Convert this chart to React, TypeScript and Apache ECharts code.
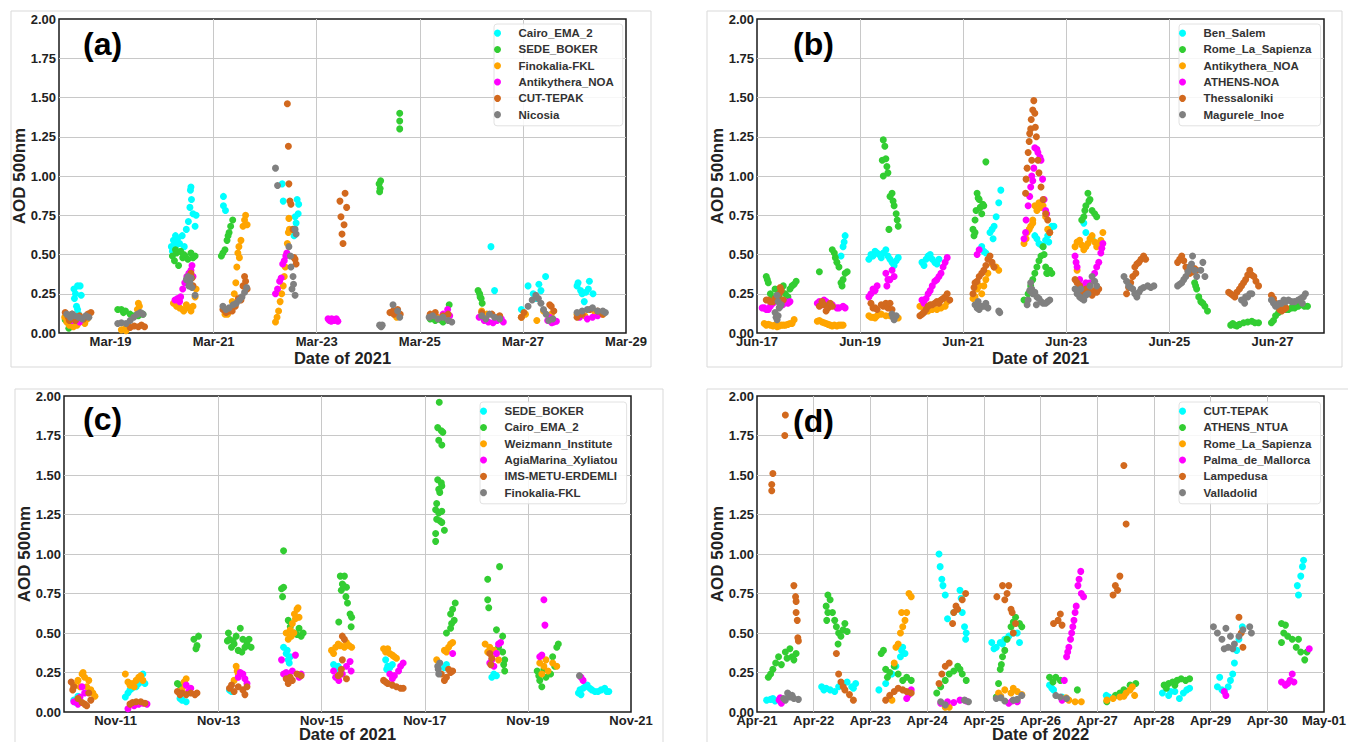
import React, { useEffect, useRef } from 'react';
import * as echarts from 'echarts';

const FONT = "'Liberation Sans', Arial, Helvetica, sans-serif";
const COLORS = ['#00FFFF', '#32CD32', '#FFA500', '#FF00FF', '#D2691E', '#808080'];

// ---------- Panel (a): March 2021, x = days since Mar-18 ----------
const aNames = ['Cairo_EMA_2', 'SEDE_BOKER', 'Finokalia-FKL', 'Antikythera_NOA', 'CUT-TEPAK', 'Nicosia'];
const aTicks = [1, 3, 5, 7, 9, 11];
const aTickLabels = ['Mar-19', 'Mar-21', 'Mar-23', 'Mar-25', 'Mar-27', 'Mar-29'];
const aCairo = [[0.29,0.28],[0.32,0.25],[0.36,0.30],[0.41,0.30],[0.43,0.24],[0.34,0.17],[0.36,0.15],[0.38,0.12],[0.30,0.22],
[2.18,0.55],[2.22,0.59],[2.26,0.62],[2.30,0.60],[2.34,0.57],[2.39,0.62],[2.43,0.55],[2.47,0.66],[2.51,0.71],[2.54,0.80],[2.57,0.85],[2.55,0.91],[2.56,0.93],[2.60,0.76],[2.64,0.68],[2.66,0.75],[2.20,0.52],[2.28,0.56],
[3.19,0.87],[3.19,0.81],[3.23,0.78],
[4.33,0.95],[4.35,0.84],[4.54,0.66],[4.56,0.62],[4.58,0.74],[4.62,0.85],[4.64,0.76],[4.60,0.70],[4.65,0.82],
[8.38,0.55],[8.45,0.27],
[9.10,0.30],[9.20,0.25],[9.31,0.31],[9.35,0.27],[9.44,0.36],[8.97,0.15],[9.25,0.22],
[10.05,0.30],[10.07,0.32],[10.15,0.25],[10.19,0.20],[10.27,0.28],[10.29,0.33],[10.36,0.25],[10.12,0.27],[10.22,0.26]];
const aSede = [[0.12,0.085],[0.19,0.03],[0.16,0.07],[0.22,0.06],
[1.14,0.15],[1.21,0.15],[1.29,0.14],[1.38,0.12],[1.46,0.11],[1.54,0.11],[1.63,0.12],[1.25,0.13],
[2.20,0.49],[2.24,0.46],[2.28,0.51],[2.32,0.43],[2.36,0.52],[2.40,0.48],[2.45,0.49],[2.50,0.47],[2.56,0.51],[2.60,0.48],[2.64,0.49],[2.26,0.53],[2.42,0.50],
[3.15,0.49],[3.18,0.51],[3.22,0.53],[3.26,0.59],[3.30,0.64],[3.33,0.68],[3.37,0.72],[3.28,0.62],
[6.21,0.95],[6.23,0.92],[6.24,0.97],[6.22,0.90],
[6.61,1.40],[6.61,1.35],[6.61,1.30],
[7.20,0.09],[7.30,0.08],[7.40,0.085],[7.50,0.10],[7.57,0.18],[7.45,0.07],
[8.13,0.27],[8.16,0.25],[8.19,0.22],[8.21,0.19],[8.17,0.23]];
const aFino = [[0.11,0.10],[0.15,0.07],[0.20,0.05],[0.25,0.06],[0.30,0.08],[0.35,0.05],[0.40,0.07],[0.45,0.09],[0.50,0.06],[0.55,0.09],[0.28,0.04],
[1.21,0.02],[1.29,0.03],[1.34,0.05],[1.30,0.015],[1.54,0.19],[1.56,0.17],[1.52,0.15],
[2.22,0.19],[2.28,0.17],[2.34,0.16],[2.40,0.15],[2.47,0.18],[2.52,0.16],[2.56,0.14],[2.60,0.17],[2.64,0.23],[2.66,0.28],[2.30,0.20],[2.42,0.14],
[3.22,0.12],[3.27,0.12],[3.32,0.15],[3.36,0.20],[3.40,0.25],[3.43,0.32],[3.45,0.42],[3.47,0.51],[3.49,0.55],[3.53,0.59],[3.57,0.68],[3.60,0.72],[3.62,0.75],[3.65,0.69],[3.50,0.48],
[4.20,0.07],[4.23,0.10],[4.26,0.14],[4.29,0.20],[4.32,0.25],[4.35,0.30],[4.37,0.36],[4.39,0.42],[4.42,0.50],[4.43,0.57],[4.45,0.64],[4.46,0.73],[4.47,0.66],
[6.50,0.12],[6.55,0.10],
[7.20,0.11],[7.35,0.10],[7.55,0.09],
[8.20,0.14],[8.30,0.12],[8.50,0.10],
[8.97,0.10],[9.05,0.12],[9.27,0.08],[9.40,0.14],[9.55,0.12],
[10.05,0.12],[10.20,0.11],[10.40,0.13],[10.55,0.12]];
const aAnti = [[0.25,0.08],[0.40,0.07],
[2.25,0.21],[2.30,0.22],[2.36,0.23],[2.40,0.28],[2.44,0.32],[2.48,0.36],[2.52,0.38],[2.56,0.40],[2.58,0.43],[2.60,0.36],[2.34,0.20],
[4.20,0.25],[4.24,0.28],[4.28,0.33],[4.31,0.35],[4.34,0.44],[4.37,0.46],[4.40,0.49],[4.42,0.51],
[5.22,0.09],[5.25,0.08],[5.28,0.075],[5.31,0.085],[5.34,0.08],[5.38,0.09],[5.41,0.075],[5.29,0.09],
[7.45,0.12],[7.54,0.15],[7.58,0.11],
[8.15,0.10],[8.25,0.08],[8.33,0.07],[8.42,0.065],[8.50,0.08],[8.58,0.09],[8.62,0.07],
[9.48,0.08],[9.56,0.065],[9.60,0.07],[9.65,0.075],[9.52,0.10],
[10.10,0.10],[10.25,0.09],[10.35,0.10],[10.45,0.11]];
const aCut = [[0.12,0.13],[0.18,0.10],[0.25,0.12],[0.32,0.08],[0.40,0.11],[0.48,0.09],[0.56,0.12],[0.62,0.13],[0.20,0.08],
[1.38,0.035],[1.46,0.045],[1.54,0.04],[1.60,0.05],[1.66,0.04],
[2.56,0.38],[2.58,0.35],[2.60,0.30],
[3.18,0.15],[3.24,0.13],[3.30,0.14],[3.36,0.14],[3.42,0.17],[3.48,0.22],[3.53,0.21],[3.57,0.30],[3.60,0.36],[3.62,0.33],[3.65,0.28],
[4.43,1.46],[4.45,1.19],[4.46,0.95],[4.48,0.84],[4.50,0.82],[4.54,0.66],[4.58,0.47],[4.60,0.44],[4.56,0.48],
[5.45,0.84],[5.55,0.89],[5.47,0.74],[5.53,0.69],[5.49,0.63],[5.51,0.57],[5.58,0.80],
[6.42,0.13],[6.50,0.12],[6.57,0.15],[6.62,0.12],[6.48,0.14],
[7.20,0.12],[7.30,0.13],[7.45,0.11],[7.55,0.12],
[8.20,0.13],[8.40,0.12],[8.55,0.11],
[8.97,0.10],[9.02,0.13],[9.55,0.17],[9.60,0.14],[9.52,0.18],
[10.05,0.10],[10.15,0.12],[10.30,0.15],[10.45,0.14],[10.55,0.12]];
const aNicosia = [[0.15,0.12],[0.22,0.10],[0.30,0.11],[0.38,0.10],[0.45,0.09],[0.52,0.11],[0.58,0.10],[0.26,0.12],
[1.14,0.06],[1.21,0.065],[1.30,0.06],[1.38,0.08],[1.45,0.10],[1.52,0.12],[1.58,0.13],[1.63,0.12],
[2.47,0.34],[2.50,0.36],[2.54,0.32],[2.58,0.29],[2.64,0.24],[2.52,0.30],[2.56,0.35],
[3.18,0.17],[3.24,0.15],[3.30,0.16],[3.38,0.18],[3.44,0.19],[3.50,0.21],[3.55,0.23],[3.60,0.26],[3.64,0.29],
[4.20,1.05],[4.24,0.94],[4.46,0.55],[4.49,0.49],[4.50,0.42],[4.54,0.36],[4.55,0.31],[4.58,0.24],[4.58,0.66],[4.60,0.63],[4.52,0.28],
[6.22,0.05],[6.25,0.04],[6.27,0.05],[6.48,0.18],[6.57,0.14],[6.61,0.10],
[7.18,0.10],[7.25,0.11],[7.35,0.09],[7.45,0.10],[7.55,0.08],[7.62,0.07],
[8.20,0.11],[8.28,0.09],[8.35,0.12],[8.45,0.10],[8.55,0.09],
[9.10,0.17],[9.18,0.21],[9.25,0.24],[9.30,0.22],[9.35,0.19],[9.40,0.15],[9.45,0.12],[9.50,0.08],[9.58,0.09],
[10.05,0.13],[10.15,0.14],[10.25,0.15],[10.35,0.16],[10.45,0.14],[10.55,0.14],[10.60,0.13]];

// ---------- Panel (b): June 2021, x = days since Jun-17 ----------
const bNames = ['Ben_Salem', 'Rome_La_Sapienza', 'Antikythera_NOA', 'ATHENS-NOA', 'Thessaloniki', 'Magurele_Inoe'];
const bTicks = [0, 2, 4, 6, 8, 10];
const bTickLabels = ['Jun-17', 'Jun-19', 'Jun-21', 'Jun-23', 'Jun-25', 'Jun-27'];
const bBen = [[1.63,0.49],[1.67,0.55],[1.71,0.62],[1.69,0.58],
[2.17,0.47],[2.21,0.50],[2.25,0.49],[2.29,0.52],[2.33,0.51],[2.37,0.50],[2.41,0.48],[2.45,0.51],[2.50,0.53],[2.54,0.49],[2.58,0.47],[2.62,0.45],[2.66,0.43],[2.70,0.46],[2.74,0.48],
[3.20,0.45],[3.24,0.43],[3.28,0.47],[3.32,0.49],[3.36,0.50],[3.40,0.47],[3.45,0.45],[3.49,0.44],[3.53,0.47],
[4.36,0.55],[4.40,0.52],[4.44,0.51],[4.52,0.64],[4.56,0.66],[4.60,0.68],[4.64,0.74],[4.69,0.83],[4.73,0.91],[4.58,0.60],
[5.39,0.62],[5.43,0.60],[5.47,0.57],[5.51,0.56],[5.55,0.55],[5.60,0.59],[5.64,0.62],[5.68,0.66],[5.72,0.68],[5.76,0.68],[5.66,0.58],
[6.34,0.70],[6.38,0.64],[6.50,0.60]];
const bRome = [[0.18,0.36],[0.20,0.34],[0.22,0.32],[0.26,0.25],[0.31,0.22],[0.39,0.24],[0.43,0.23],[0.47,0.27],[0.51,0.30],[0.55,0.25],[0.60,0.23],[0.64,0.28],[0.68,0.30],[0.72,0.31],[0.76,0.33],[0.35,0.28],
[1.21,0.39],[1.46,0.53],[1.50,0.51],[1.52,0.48],[1.55,0.45],[1.59,0.42],[1.63,0.32],[1.67,0.34],[1.71,0.38],[1.75,0.39],[1.65,0.30],
[2.43,1.10],[2.45,1.00],[2.45,1.23],[2.48,1.19],[2.50,1.11],[2.52,1.06],[2.54,1.02],[2.58,0.87],[2.62,0.89],[2.66,0.81],[2.70,0.76],[2.72,0.72],[2.74,0.68],[2.56,0.66],[2.64,0.84],
[4.19,0.66],[4.21,0.62],[4.23,0.72],[4.25,0.78],[4.27,0.89],[4.29,0.86],[4.31,0.85],[4.33,0.80],[4.36,0.76],[4.38,0.82],[4.40,0.81],[4.44,1.09],[4.23,0.64],
[5.18,0.21],[5.26,0.25],[5.31,0.30],[5.35,0.34],[5.39,0.38],[5.43,0.42],[5.47,0.46],[5.51,0.49],[5.55,0.55],[5.57,0.50],[5.60,0.42],[5.62,0.38],[5.64,0.38],[5.68,0.40],[5.72,0.38],
[6.30,0.72],[6.34,0.74],[6.38,0.81],[6.42,0.89],[6.44,0.84],[6.46,0.85],[6.50,0.78],[6.55,0.76],[6.59,0.74],[6.36,0.78],
[8.49,0.32],[8.53,0.28],[8.57,0.23],[8.61,0.20],[8.65,0.19],[8.69,0.17],[8.74,0.14],[8.51,0.30],
[9.19,0.05],[9.23,0.06],[9.31,0.045],[9.36,0.055],[9.44,0.065],[9.52,0.07],[9.60,0.075],[9.66,0.065],[9.73,0.065],[9.27,0.05],
[9.98,0.065],[10.02,0.08],[10.06,0.11],[10.12,0.13],[10.18,0.15],[10.26,0.15],[10.31,0.15],[10.37,0.16],[10.43,0.16],[10.50,0.17],[10.55,0.18],[10.62,0.17],[10.68,0.17]];
const bAnti = [[0.14,0.06],[0.18,0.05],[0.22,0.055],[0.26,0.05],[0.31,0.045],[0.35,0.05],[0.39,0.04],[0.43,0.045],[0.47,0.05],[0.51,0.05],[0.55,0.05],[0.60,0.055],[0.64,0.06],[0.68,0.06],[0.72,0.085],
[1.17,0.075],[1.21,0.08],[1.26,0.07],[1.30,0.065],[1.34,0.06],[1.38,0.055],[1.42,0.05],[1.46,0.045],[1.50,0.05],[1.55,0.045],[1.59,0.05],[1.63,0.05],[1.67,0.05],
[2.17,0.11],[2.21,0.10],[2.25,0.10],[2.29,0.095],[2.33,0.11],[2.41,0.12],[2.50,0.11],[2.58,0.11],[2.66,0.10],[2.74,0.095],
[3.16,0.17],[3.24,0.15],[3.32,0.14],[3.40,0.15],[3.49,0.15],[3.57,0.16],[3.65,0.17],[3.69,0.20],
[4.19,0.22],[4.23,0.23],[4.27,0.28],[4.31,0.30],[4.36,0.25],[4.40,0.30],[4.44,0.34],[4.48,0.38],[4.56,0.44],[4.60,0.42],[4.64,0.42],[4.69,0.40],
[5.18,0.57],[5.22,0.60],[5.24,0.64],[5.28,0.66],[5.31,0.68],[5.35,0.72],[5.39,0.81],[5.43,0.78],[5.47,0.83],[5.51,0.80],[5.55,0.81],[5.60,0.74],[5.64,0.66],[5.68,0.64],[5.35,0.70],
[6.17,0.55],[6.21,0.58],[6.26,0.59],[6.30,0.56],[6.34,0.53],[6.38,0.55],[6.42,0.57],[6.46,0.60],[6.50,0.62],[6.55,0.58],[6.59,0.55],[6.63,0.57],[6.67,0.59],[6.71,0.64],[6.21,0.40]];
const bAthens = [[0.10,0.16],[0.14,0.16],[0.18,0.15],[0.22,0.15],[0.26,0.17],[0.31,0.19],[0.55,0.20],[0.60,0.19],[0.64,0.20],[0.50,0.18],
[1.17,0.19],[1.21,0.20],[1.26,0.18],[1.30,0.21],[1.34,0.20],[1.38,0.17],[1.42,0.18],[1.46,0.18],[1.55,0.16],[1.59,0.16],[1.67,0.17],[1.71,0.16],
[2.17,0.23],[2.21,0.25],[2.25,0.28],[2.29,0.27],[2.33,0.30],[2.50,0.38],[2.54,0.34],[2.58,0.34],[2.62,0.40],[2.66,0.36],[2.52,0.30],
[3.20,0.21],[3.24,0.19],[3.28,0.22],[3.32,0.25],[3.36,0.27],[3.40,0.30],[3.45,0.33],[3.49,0.34],[3.53,0.36],[3.57,0.38],[3.61,0.42],[3.65,0.45],[3.69,0.48],
[4.27,0.50],[4.31,0.53],
[5.18,0.60],[5.21,0.64],[5.22,0.72],[5.26,0.81],[5.29,0.87],[5.31,0.93],[5.33,1.00],[5.37,1.05],[5.39,1.18],[5.43,1.17],[5.45,1.15],[5.49,1.12],[5.51,1.10],[5.54,0.98],[5.57,0.85],[5.60,0.78],[5.62,0.76],[5.35,0.97],
[6.17,0.49],[6.19,0.45],[6.21,0.42],[6.26,0.34],[6.30,0.30],[6.38,0.32],[6.46,0.32],[6.55,0.38],[6.59,0.42],[6.63,0.45],[6.67,0.51],[6.71,0.57],[6.69,0.54]];
const bThess = [[0.18,0.21],[0.22,0.21],[0.26,0.20],[0.31,0.20],[0.35,0.22],[0.39,0.23],[0.43,0.25],[0.47,0.27],[0.51,0.21],[0.45,0.29],
[1.21,0.17],[1.26,0.20],[1.30,0.18],[1.34,0.14],[1.38,0.16],[1.42,0.19],[1.46,0.17],
[2.21,0.19],[2.25,0.16],[2.29,0.16],[2.33,0.15],[2.41,0.18],[2.45,0.17],[2.50,0.19],[2.54,0.16],[2.58,0.19],[2.62,0.15],
[3.16,0.11],[3.20,0.12],[3.24,0.13],[3.28,0.15],[3.32,0.17],[3.36,0.18],[3.40,0.18],[3.45,0.19],[3.49,0.20],[3.53,0.19],[3.57,0.21],[3.61,0.22],[3.65,0.23],[3.74,0.21],[3.69,0.25],
[4.19,0.25],[4.21,0.29],[4.23,0.32],[4.27,0.33],[4.31,0.36],[4.36,0.38],[4.40,0.40],[4.44,0.43],[4.48,0.47],[4.52,0.49],[4.56,0.45],[4.60,0.42],
[5.21,0.89],[5.22,0.98],[5.24,1.05],[5.26,1.15],[5.28,1.22],[5.29,1.27],[5.31,1.30],[5.32,1.36],[5.35,1.42],[5.37,1.48],[5.39,1.40],[5.40,1.31],[5.42,1.25],[5.45,1.10],[5.47,1.02],[5.51,0.93],[5.55,0.85],[5.60,0.76],[5.64,0.72],[5.68,0.64],[5.33,1.10],
[6.17,0.34],[6.21,0.32],[6.26,0.30],[6.30,0.27],[6.34,0.25],[6.38,0.28],[6.42,0.28],[6.46,0.26],[6.50,0.24],[6.55,0.27],[6.59,0.26],[6.63,0.28],
[7.17,0.25],[7.21,0.29],[7.25,0.32],[7.29,0.36],[7.33,0.42],[7.37,0.44],[7.41,0.45],[7.45,0.47],[7.50,0.49],[7.54,0.47],[7.35,0.38],
[8.16,0.45],[8.20,0.47],[8.24,0.49],[8.28,0.46],[8.32,0.42],[8.36,0.40],[8.40,0.38],[8.45,0.39],[8.49,0.41],[8.53,0.40],
[9.15,0.26],[9.19,0.25],[9.23,0.24],[9.27,0.23],[9.31,0.26],[9.36,0.28],[9.40,0.30],[9.44,0.32],[9.48,0.34],[9.52,0.37],[9.56,0.40],[9.60,0.37],[9.64,0.36],[9.68,0.33],[9.73,0.30],
[9.98,0.24],[10.02,0.22],[10.06,0.19],[10.10,0.17],[10.14,0.15],[10.18,0.14],[10.22,0.15],[10.26,0.16]];
const bMagurele = [[0.35,0.13],[0.37,0.10],[0.39,0.085],[0.41,0.11],[0.43,0.16],[0.45,0.17],[0.47,0.18],[0.39,0.24],[0.41,0.20],
[2.62,0.12],[2.66,0.085],[2.70,0.11],[2.64,0.10],
[4.23,0.18],[4.27,0.16],[4.31,0.15],[4.36,0.17],[4.40,0.17],[4.44,0.19],[4.48,0.16],[4.69,0.14],[4.71,0.13],[4.29,0.20],
[5.26,0.21],[5.29,0.27],[5.31,0.32],[5.33,0.28],[5.35,0.25],[5.39,0.26],[5.43,0.23],[5.47,0.22],[5.51,0.20],[5.55,0.19],[5.60,0.19],[5.64,0.20],[5.68,0.21],[5.24,0.18],[5.42,0.18],
[6.17,0.28],[6.21,0.25],[6.26,0.23],[6.30,0.22],[6.34,0.21],[6.38,0.24],[6.42,0.25],[6.46,0.30],[6.50,0.36],[6.55,0.33],[6.59,0.30],[6.28,0.28],
[7.12,0.36],[7.17,0.33],[7.21,0.30],[7.25,0.29],[7.29,0.28],[7.33,0.25],[7.37,0.23],[7.41,0.26],[7.45,0.28],[7.50,0.29],[7.58,0.30],[7.64,0.29],[7.70,0.30],
[8.16,0.30],[8.20,0.31],[8.24,0.32],[8.28,0.34],[8.32,0.36],[8.36,0.39],[8.40,0.42],[8.45,0.49],[8.43,0.44],[8.49,0.40],[8.53,0.36],[8.61,0.40],[8.65,0.45],[8.69,0.36],
[9.40,0.21],[9.44,0.21],[9.48,0.23],[9.52,0.23],[9.56,0.25],[9.60,0.25],[9.46,0.19],
[9.98,0.21],[10.02,0.19],[10.06,0.17],[10.10,0.18],[10.14,0.19],[10.18,0.19],[10.22,0.21],[10.26,0.20],[10.31,0.21],[10.37,0.20],[10.43,0.20],[10.50,0.21],[10.55,0.22],[10.60,0.23],[10.64,0.25],[10.58,0.19]];

// ---------- Panel (c): November 2021, x = days since Nov-10 ----------
const cNames = ['SEDE_BOKER', 'Cairo_EMA_2', 'Weizmann_Institute', 'AgiaMarina_Xyliatou', 'IMS-METU-ERDEMLI', 'Finokalia-FKL'];
const cTicks = [1, 3, 5, 7, 9, 11];
const cTickLabels = ['Nov-11', 'Nov-13', 'Nov-15', 'Nov-17', 'Nov-19', 'Nov-21'];
const cSede = [[0.19,0.075],[0.27,0.10],[0.23,0.06],
[1.19,0.095],[1.24,0.12],[1.28,0.14],[1.32,0.15],[1.36,0.17],[1.45,0.18],[1.49,0.21],[1.53,0.24],[1.57,0.18],[1.40,0.16],
[2.25,0.085],[2.29,0.075],[2.37,0.065],
[3.25,0.13],[3.21,0.14],
[4.26,0.41],[4.31,0.37],[4.35,0.33],[4.39,0.35],[4.37,0.31],[4.33,0.39],
[5.23,0.30],[5.27,0.27],[5.32,0.29],
[6.24,0.33],[6.28,0.29],[6.32,0.28],[6.37,0.30],[6.26,0.27],
[7.42,0.30],[7.38,0.28],
[8.30,0.22],[8.39,0.23],[8.34,0.24],
[9.98,0.12],[10.03,0.11],[10.07,0.15],[10.11,0.16],[10.15,0.17],[10.20,0.15],[10.24,0.14],[10.30,0.13],[10.36,0.13],[10.42,0.14],[10.49,0.15],[10.53,0.13],[10.57,0.13],[10.01,0.14]];
const cCairo = [[2.20,0.18],[2.25,0.17],[2.52,0.46],[2.56,0.40],[2.58,0.42],[2.61,0.48],
[3.17,0.45],[3.19,0.50],[3.21,0.46],[3.25,0.41],[3.30,0.43],[3.34,0.48],[3.38,0.39],[3.42,0.53],[3.47,0.46],[3.51,0.41],[3.55,0.43],[3.59,0.46],[3.63,0.41],[3.45,0.38],[3.28,0.45],
[4.26,1.02],[4.22,0.78],[4.26,0.79],[4.24,0.73],[4.35,0.58],[4.39,0.54],[4.47,0.50],[4.56,0.53],[4.60,0.48],[4.64,0.50],[4.52,0.49],
[5.33,0.57],[5.36,0.86],[5.40,0.81],[5.44,0.86],[5.48,0.79],[5.47,0.73],[5.50,0.69],[5.55,0.62],[5.57,0.54],[5.58,0.60],[5.38,0.77],[5.42,0.80],
[7.28,1.96],[7.25,1.80],[7.32,1.78],[7.35,1.77],[7.27,1.72],[7.33,1.69],[7.25,1.47],[7.32,1.45],[7.27,1.41],[7.33,1.43],[7.29,1.39],[7.23,1.32],[7.21,1.28],[7.27,1.26],[7.33,1.27],[7.23,1.22],[7.29,1.21],[7.33,1.20],[7.38,1.15],[7.21,1.13],[7.21,1.08],
[7.42,0.50],[7.50,0.62],[7.54,0.65],[7.59,0.69],[7.52,0.56],[7.57,0.58],[7.50,0.53],
[8.22,0.84],[8.22,0.71],[8.24,0.66],[8.45,0.92],[8.39,0.52],[8.51,0.48],[8.51,0.38],[8.55,0.33],[8.55,0.26],[8.43,0.41],[8.53,0.30],
[9.18,0.26],[9.23,0.20],[9.27,0.16],[9.35,0.22],[9.44,0.24],[9.52,0.29],[9.56,0.41],[9.59,0.43],[9.48,0.35],[9.21,0.23],[9.31,0.27]];
const cWeiz = [[0.19,0.17],[0.27,0.20],[0.35,0.24],[0.40,0.22],[0.44,0.16],[0.52,0.14],[0.56,0.12],[0.31,0.16],[0.48,0.20],[0.37,0.25],[0.60,0.10],
[1.19,0.24],[1.24,0.19],[1.32,0.18],[1.40,0.20],[1.45,0.22],[1.49,0.23],[1.28,0.17],[1.36,0.16],[1.53,0.20],
[2.29,0.14],[2.33,0.19],[2.37,0.21],[2.35,0.17],
[3.30,0.20],[3.34,0.29],[3.38,0.24],[3.36,0.26],
[4.31,0.50],[4.35,0.46],[4.39,0.52],[4.43,0.56],[4.47,0.62],[4.52,0.65],[4.56,0.60],[4.54,0.66],[4.46,0.50],[4.49,0.59],[4.41,0.48],
[5.19,0.39],[5.27,0.41],[5.36,0.42],[5.44,0.41],[5.53,0.42],[5.58,0.41],[5.23,0.37],[5.32,0.43],[5.48,0.44],
[6.20,0.40],[6.24,0.38],[6.32,0.37],[6.41,0.35],[6.45,0.34],[6.28,0.40],[6.37,0.36],
[7.23,0.33],[7.38,0.39],[7.46,0.41],[7.50,0.43],[7.54,0.44],[7.42,0.38],
[8.17,0.43],[8.26,0.41],[8.34,0.39],[8.43,0.33],[8.39,0.37],[8.22,0.38],
[9.23,0.31],[9.31,0.29],[9.39,0.26],[9.48,0.31],[9.56,0.29],[9.27,0.24],[9.35,0.33]];
const cAgia = [[0.19,0.065],[0.31,0.095],[0.35,0.16],[0.40,0.12],[0.27,0.05],
[1.24,0.02],[1.36,0.04],[1.53,0.055],[1.61,0.05],[1.45,0.05],
[2.37,0.17],[2.46,0.15],[2.42,0.13],
[3.38,0.22],[3.47,0.24],[3.51,0.21],[3.55,0.18],[3.42,0.25],
[4.22,0.33],[4.26,0.24],[4.35,0.23],[4.43,0.26],[4.49,0.36],[4.56,0.22],[4.60,0.24],[4.31,0.25],
[5.23,0.26],[5.27,0.22],[5.40,0.24],[5.48,0.29],[5.57,0.26],[5.55,0.32],[5.33,0.20],
[6.32,0.24],[6.41,0.23],[6.49,0.26],[6.58,0.31],[6.53,0.29],[6.37,0.21],
[7.54,0.37],
[8.26,0.31],[8.34,0.29],[8.43,0.43],[8.47,0.44],[8.39,0.37],[8.30,0.33],
[9.23,0.35],[9.31,0.71],[9.33,0.55],[9.27,0.36],
[10.03,0.22],[10.07,0.20]];
const cIms = [[0.14,0.19],[0.19,0.16],[0.27,0.085],[0.40,0.05],[0.44,0.04],[0.52,0.075],[0.48,0.12],[0.35,0.06],[0.17,0.14],
[1.28,0.05],[1.40,0.065],[1.49,0.065],[1.57,0.055],[1.33,0.06],
[2.20,0.13],[2.29,0.12],[2.37,0.11],[2.46,0.12],[2.54,0.11],[2.58,0.12],[2.25,0.11],
[3.21,0.15],[3.30,0.13],[3.38,0.16],[3.47,0.14],[3.55,0.16],[3.51,0.11],[3.25,0.17],
[4.31,0.21],[4.35,0.18],[4.43,0.20],[4.52,0.24],[4.60,0.23],[4.39,0.22],
[5.40,0.48],[5.44,0.46],[5.40,0.33],[5.36,0.24],[5.48,0.21],[5.32,0.23],[5.38,0.27],
[6.20,0.20],[6.28,0.18],[6.37,0.17],[6.45,0.16],[6.53,0.15],[6.58,0.15],[6.24,0.19],
[7.32,0.24],[7.42,0.22],[7.50,0.25],[7.54,0.26],[7.38,0.20],[7.46,0.27],
[8.26,0.37],[8.30,0.34],[8.28,0.30]];
const cFino = [[7.25,0.29],[7.27,0.24],[7.29,0.31],[7.26,0.27],[10.00,0.23]];

// ---------- Panel (d): April 2022, x = days since Apr-21 ----------
const dNames = ['CUT-TEPAK', 'ATHENS_NTUA', 'Rome_La_Sapienza', 'Palma_de_Mallorca', 'Lampedusa', 'Valladolid'];
const dTicks = [0, 1, 2, 3, 4, 5, 6, 7, 8, 9, 10];
const dTickLabels = ['Apr-21', 'Apr-22', 'Apr-23', 'Apr-24', 'Apr-25', 'Apr-26', 'Apr-27', 'Apr-28', 'Apr-29', 'Apr-30', 'May-01'];
const dCut = [[0.17,0.075],[0.24,0.08],[0.32,0.07],[0.39,0.08],[0.28,0.085],
[1.14,0.16],[1.22,0.15],[1.29,0.14],[1.37,0.13],[1.44,0.16],[1.52,0.18],[1.59,0.19],[1.67,0.16],[1.74,0.18],[1.70,0.15],[1.18,0.14],
[2.15,0.14],[2.27,0.18],[2.38,0.24],[2.45,0.29],[2.53,0.35],[2.57,0.41],[2.61,0.37],[2.55,0.39],
[3.21,1.00],[3.23,0.92],[3.26,0.84],[3.28,0.80],[3.32,0.74],[3.36,0.59],[3.47,0.63],[3.58,0.77],[3.62,0.63],[3.66,0.54],[3.68,0.46],[3.69,0.50],[3.60,0.72],
[4.14,0.44],[4.22,0.41],[4.29,0.44],[4.37,0.46],[4.44,0.48],[4.52,0.50],[4.59,0.50],[4.63,0.44],[4.18,0.40],[4.33,0.43],
[5.16,0.17],[5.23,0.14],[5.38,0.095],[5.20,0.15],
[6.16,0.105],[6.21,0.095],
[7.15,0.12],[7.26,0.105],[7.37,0.13],[7.45,0.085],[7.52,0.12],[7.63,0.15],[7.30,0.13],[7.58,0.14],
[8.12,0.16],[8.16,0.22],[8.24,0.13],[8.31,0.16],[8.39,0.24],[8.42,0.31],[8.46,0.39],[8.50,0.46],[8.56,0.54],[8.35,0.20],[8.20,0.14],
[9.53,0.80],[9.55,0.74],[9.59,0.86],[9.62,0.92],[9.64,0.96]];
const dAthens = [[0.20,0.22],[0.24,0.24],[0.28,0.27],[0.33,0.31],[0.38,0.35],[0.43,0.30],[0.50,0.38],[0.58,0.40],[0.62,0.35],[0.65,0.33],[0.69,0.37],[0.53,0.34],
[1.22,0.67],[1.25,0.74],[1.29,0.71],[1.23,0.58],[1.33,0.63],[1.37,0.58],[1.40,0.54],[1.44,0.50],[1.48,0.48],[1.52,0.52],[1.55,0.56],[1.59,0.51],[1.43,0.43],[1.25,0.63],
[2.19,0.37],[2.23,0.39],[2.27,0.27],[2.34,0.25],[2.42,0.29],[2.49,0.24],[2.57,0.20],[2.64,0.22],[2.72,0.20],[2.30,0.22],
[3.17,0.12],[3.24,0.16],[3.32,0.20],[3.39,0.24],[3.47,0.26],[3.54,0.29],[3.62,0.24],[3.69,0.20],[3.58,0.27],
[4.22,0.095],[4.26,0.18],[4.29,0.27],[4.33,0.35],[4.37,0.39],[4.41,0.46],[4.48,0.54],[4.56,0.60],[4.63,0.56],[4.67,0.54],[4.31,0.30],[4.52,0.57],
[5.16,0.22],[5.27,0.22],[5.35,0.20],[5.65,0.14],[5.22,0.19],
[6.17,0.065],[6.32,0.105],[6.47,0.14],[6.58,0.17],[6.68,0.18],[6.40,0.12],
[7.18,0.17],[7.26,0.18],[7.33,0.19],[7.41,0.20],[7.48,0.21],[7.56,0.20],[7.63,0.21],[7.22,0.15],[7.37,0.17],
[9.25,0.56],[9.32,0.55],[9.25,0.44],[9.36,0.48],[9.44,0.46],[9.51,0.41],[9.59,0.38],[9.66,0.33],[9.70,0.38],[9.55,0.46],[9.29,0.50]];
const dRome = [[2.38,0.075],[2.42,0.31],[2.49,0.43],[2.53,0.50],[2.57,0.54],[2.61,0.58],[2.64,0.63],[2.68,0.75],[2.72,0.73],[2.55,0.63],[2.45,0.41],
[3.32,0.03],[3.39,0.03],
[4.26,0.12],[4.37,0.14],[4.48,0.12],[4.59,0.13],[4.67,0.11],[4.30,0.10],[4.52,0.15],
[5.50,0.075],[5.61,0.065],[5.72,0.065],[5.45,0.09],
[6.17,0.075],[6.28,0.085],[6.40,0.095],[6.51,0.12],[6.58,0.14],[6.66,0.105],[6.62,0.16],[6.47,0.10]];
const dPalma = [[0.39,0.075],[0.43,0.055],[0.41,0.09],
[2.64,0.085],[2.72,0.14],[2.68,0.11],
[3.24,0.055],[3.36,0.065],[3.47,0.06],[3.58,0.075],[3.69,0.07],
[4.44,0.055],[4.59,0.065],[4.50,0.07],
[5.38,0.075],[5.42,0.20],[5.46,0.35],[5.50,0.41],[5.53,0.46],[5.57,0.54],[5.61,0.63],[5.63,0.67],[5.66,0.80],[5.68,0.84],[5.71,0.89],[5.72,0.75],[5.76,0.73],[5.48,0.38],[5.55,0.50],[5.59,0.58],
[8.24,0.13],[8.27,0.105],
[9.25,0.19],[9.32,0.17],[9.40,0.20],[9.44,0.24],[9.47,0.19],[9.74,0.40],[9.36,0.18]];
const dLamp = [[0.26,1.40],[0.26,1.44],[0.28,1.51],[0.49,1.75],[0.50,1.88],[0.65,0.80],[0.68,0.73],[0.69,0.70],[0.69,0.63],[0.71,0.58],[0.73,0.45],[0.72,0.47],
[1.40,0.37],[1.44,0.24],[1.48,0.19],[1.55,0.14],[1.63,0.11],[1.70,0.075],[1.52,0.16],
[2.27,0.075],[2.34,0.105],[2.42,0.13],[2.49,0.15],[2.57,0.14],[2.64,0.13],[2.72,0.12],
[3.21,0.18],[3.26,0.24],[3.32,0.29],[3.39,0.31],[3.45,0.56],[3.47,0.63],[3.51,0.67],[3.54,0.65],[3.62,0.71],[3.68,0.75],
[4.23,0.73],[4.33,0.80],[4.41,0.75],[4.37,0.71],[4.44,0.80],[4.48,0.65],[4.50,0.63],[4.52,0.50],[4.56,0.56],
[5.23,0.56],[5.31,0.58],[5.35,0.62],[5.38,0.55],
[6.47,1.56],[6.51,1.19],[6.40,0.86],[6.32,0.80],[6.28,0.74],[6.36,0.77],
[8.50,0.60],[8.54,0.50],[8.57,0.41]];
const dValla = [[0.47,0.085],[0.54,0.12],[0.58,0.095],[0.62,0.105],[0.65,0.085],[0.73,0.08],[0.50,0.075],[0.56,0.11],
[3.24,0.065],[3.32,0.045],[3.66,0.075],[3.73,0.065],
[4.22,0.085],[4.37,0.07],[4.52,0.075],[4.67,0.105],[4.30,0.09],[4.59,0.08],
[5.27,0.105],[5.35,0.095],[5.46,0.085],
[8.05,0.54],[8.12,0.50],[8.20,0.46],[8.31,0.41],[8.35,0.48],[8.42,0.43],[8.50,0.48],[8.57,0.52],[8.69,0.54],[8.72,0.50],[8.27,0.53],[8.24,0.40],[8.39,0.40]];

const yTitle = 'AOD 500nm';

const PANELS = [
  { letter: '(a)', names: aNames, data: [aCairo, aSede, aFino, aAnti, aCut, aNicosia], ticks: aTicks, tickLabels: aTickLabels, xMax: 11, xTitle: 'Date of 2021',
    box: { left: 0, top: 0, width: 674, height: 378 }, grid: { left: 59, top: 19, width: 567, height: 314 }, xGap: 16,
    legend: { left: 494, top: 24 }, frame: [11, 11, 640, 356], letterPos: [83, 44] },
  { letter: '(b)', names: bNames, data: [bBen, bRome, bAnti, bAthens, bThess, bMagurele], ticks: bTicks, tickLabels: bTickLabels, xMax: 11, xTitle: 'Date of 2021',
    box: { left: 674, top: 0, width: 674, height: 378 }, grid: { left: 83, top: 19, width: 567, height: 314 }, xGap: 16,
    legend: { left: 505, top: 24 }, frame: [33, 11, 635, 356], letterPos: [119, 44] },
  { letter: '(c)', names: cNames, data: [cSede, cCairo, cWeiz, cAgia, cIms, cFino], ticks: cTicks, tickLabels: cTickLabels, xMax: 11, xTitle: 'Date of 2021',
    box: { left: 0, top: 378, width: 674, height: 364 }, grid: { left: 64, top: 18, width: 567, height: 316 }, xGap: 13,
    legend: { left: 480, top: 24 }, frame: [15, 11, 648, 400], letterPos: [83, 41] },
  { letter: '(d)', names: dNames, data: [dCut, dAthens, dRome, dPalma, dLamp, dValla], ticks: dTicks, tickLabels: dTickLabels, xMax: 10, xTitle: 'Date of 2022',
    box: { left: 674, top: 378, width: 674, height: 364 }, grid: { left: 83, top: 18, width: 567, height: 316 }, xGap: 13,
    legend: { left: 505, top: 24 }, frame: [33, 11, 700, 400], letterPos: [119, 43] },
];

function buildOption(p: any) {
  const tickText = { fontSize: 13, fontWeight: 'bold', color: '#222', fontFamily: FONT };
  const titleText = { fontSize: 16.5, fontWeight: 'bold', color: '#222', fontFamily: FONT };
  const split = { show: true, showMinLine: false, showMaxLine: false, lineStyle: { color: '#c8c8c8', width: 1 } };
  return {
    animation: false,
    backgroundColor: '#ffffff',
    graphic: [
      { type: 'rect', silent: true, z: -10, shape: { x: p.frame[0], y: p.frame[1], width: p.frame[2], height: p.frame[3] },
        style: { fill: 'none', stroke: '#d9d9d9', lineWidth: 1 } },
      { type: 'text', x: p.letterPos[0], y: p.letterPos[1], z: 100,
        style: { text: p.letter, fontSize: 32, fontWeight: 'bold', fontFamily: FONT, fill: '#000', verticalAlign: 'middle' } },
    ],
    grid: { ...p.grid, show: true, borderColor: '#1a1a1a', borderWidth: 1.5, backgroundColor: 'transparent', containLabel: false, outerBoundsMode: 'none' },
    legend: {
      orient: 'vertical', left: p.legend.left, top: p.legend.top, icon: 'circle', itemWidth: 32, itemHeight: 7, itemGap: 4,
      padding: [3, 9, 5, 0], backgroundColor: 'rgba(255,255,255,0.85)', borderColor: '#e2e2e2', borderWidth: 1, borderRadius: 3,
      selectedMode: false, data: p.names,
      textStyle: { fontSize: 11.5, fontWeight: 'bold', color: '#333', fontFamily: FONT, lineHeight: 12.3 },
    },
    xAxis: {
      type: 'value', min: 0, max: p.xMax,
      axisLine: { show: false }, axisTick: { show: false, customValues: p.ticks },
      axisLabel: { ...tickText, customValues: p.ticks, margin: 2, showMinLabel: true, showMaxLabel: true,
        formatter: (v: number) => { const i = p.ticks.indexOf(Math.round(v)); return i >= 0 ? p.tickLabels[i] : ''; } },
      splitLine: split,
      name: p.xTitle, nameLocation: 'middle', nameGap: p.xGap, nameMoveOverlap: false, nameTextStyle: titleText,
    },
    yAxis: {
      type: 'value', min: 0, max: 2, interval: 0.25,
      axisLine: { show: false }, axisTick: { show: false },
      axisLabel: { ...tickText, margin: 3, formatter: (v: number) => v.toFixed(2) },
      splitLine: split,
      name: yTitle, nameLocation: 'middle', nameGap: 31, nameMoveOverlap: false, nameTextStyle: { ...titleText, fontSize: 17 },
    },
    series: p.names.map((n: string, i: number) => ({
      type: 'scatter', name: n, data: p.data[i], symbol: 'circle', symbolSize: 7, clip: false,
      itemStyle: { color: COLORS[i], opacity: 1 }, emphasis: { disabled: true },
    })),
  };
}

function Panel({ p }: { p: any }) {
  const ref = useRef<HTMLDivElement>(null);
  useEffect(() => {
    if (!ref.current) return;
    const chart = echarts.init(ref.current, null, { renderer: 'svg' });
    chart.setOption(buildOption(p));
    return () => chart.dispose();
  }, [p]);
  return <div ref={ref} style={{ position: 'absolute', left: p.box.left, top: p.box.top, width: p.box.width, height: p.box.height }} />;
}

export default function App() {
  return (
    <div style={{ position: 'absolute', left: 0, top: 0, width: 1348, height: 742, background: '#fff', overflow: 'hidden' }}>
      {PANELS.map((p, i) => <Panel key={i} p={p} />)}
    </div>
  );
}
